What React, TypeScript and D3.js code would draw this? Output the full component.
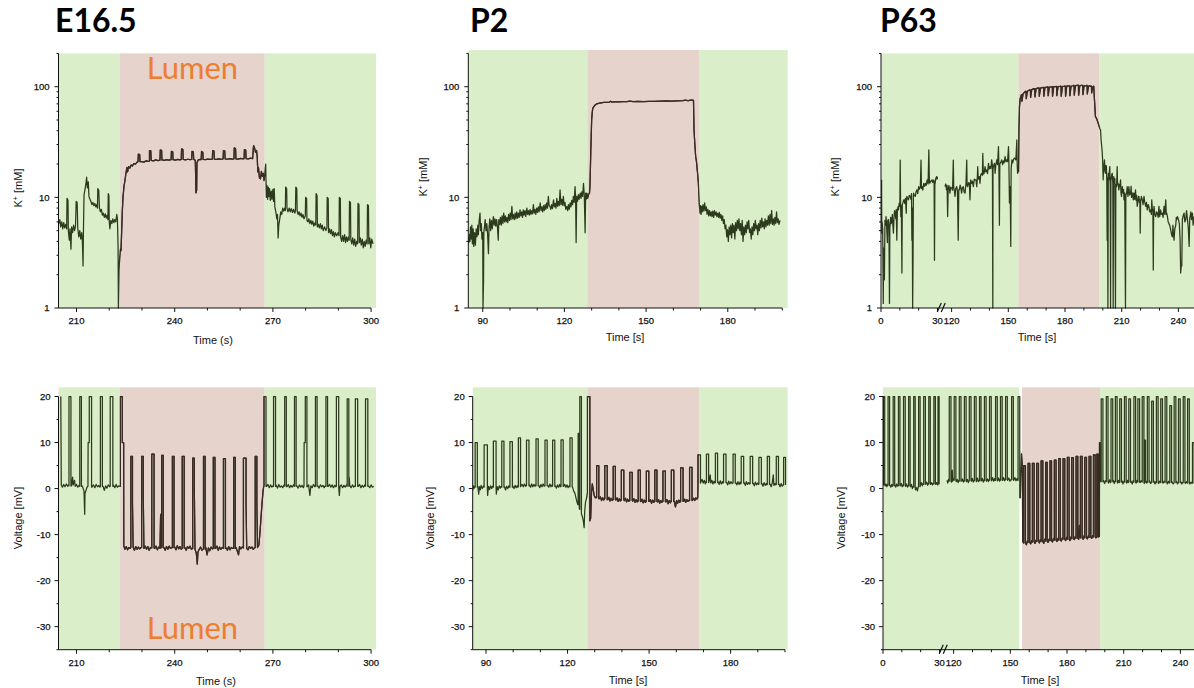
import React from 'react';
import * as d3 from 'd3';

type Pt = [number, number];
// [start, end, level before, peak, level after (optional)]
type Spike = number[];

const GREEN_BG = '#d9eec9';
const LUMEN_BG = '#e5d3cc';
const GREEN_LINE = '#2d3a1d';
const LUMEN_LINE = '#3b2923';
const ORANGE = '#ed7d31';

const stages = ['E16.5', 'P2', 'P63'];

// axis ticks
const kTicks = [1, 10, 100];
const kMinor = [2, 3, 4, 5, 6, 7, 8, 9, 20, 30, 40, 50, 60, 70, 80, 90, 200];
const vTicks = [-30, -20, -10, 0, 10, 20];
const vMinor = [-35, -25, -15, -5, 5, 15];
const e16Ticks = [210, 240, 270, 300];
const e16Minor = [220, 230, 250, 260, 280, 290];
const p2Ticks = [90, 120, 150, 180];
const p2Minor = [100, 110, 130, 140, 160, 170, 190, 200];
const p63Ticks = [0, 30, 120, 150, 180, 210, 240];
const p63Minor = [10, 20, 130, 140, 160, 170, 190, 200, 220, 230];

// lumen windows (s)
const e16Lumen = [223.3, 267.5];
const p2LumenK = [128.4, 169.4];
const p2LumenV = [127.3, 168.4];
const p63LumenK = [155.3, 198.1];
const p63LumenV = [156.2, 197.5];
const p63GreenEndV = 154.75;

// ---------- K+ traces (mM) ----------
const e16K: Pt[] = [
  [204.6,5.8],[204.9,6.3],[205.2,5.4],[205.5,6.0],[205.8,5.2],[206.1,5.9],[206.4,5.3],[206.7,5.7],[207.0,5.2],[207.1,9.8],[207.4,9.4],[207.5,5.0],[207.8,4.1],[208.0,5.2],[208.3,3.4],[208.5,5.4],[208.8,4.8],[209.1,5.6],[209.4,5.0],[209.7,5.5],[209.9,9.2],[210.2,9.0],[210.4,5.2],[210.7,4.4],[211.0,5.0],[211.3,4.2],[211.6,4.8],[211.8,4.0],[212.0,2.4],[212.1,4.6],[212.3,10.5],[212.6,11.8],[212.9,13.5],[213.1,15.2],[213.3,12.2],[213.6,13.8],[213.8,10.2],[214.1,9.6],[214.4,9.2],[214.7,8.6],[215.0,9.0],[215.3,8.4],[215.6,8.8],[215.9,8.2],[216.2,8.6],[216.4,8.0],[216.5,12.0],[216.8,11.6],[217.0,8.0],[217.3,7.4],[217.6,7.8],[217.9,6.9],[218.2,7.2],[218.5,6.6],[218.8,7.1],[219.1,6.5],[219.4,6.9],[219.6,6.3],[219.7,10.8],[219.9,10.4],[220.0,6.0],[220.2,5.2],[220.5,6.2],[220.8,5.8],[221.1,6.4],[221.4,5.9],[221.7,6.3],[222.0,6.0],[222.3,7.0],[222.5,6.4],[222.7,3.6],[222.8,1.0],[223.0,2.2],[223.2,2.9],[223.4,3.4],[223.6,3.3],[223.8,5.0],[224.0,7.5],[224.2,10.0],[224.5,12.5],[224.8,14.2],[225.1,16.5],[225.4,18.6],[225.6,17.0],[225.9,19.0],[226.3,18.4],[226.7,19.6],[227.1,19.2],[227.5,20.2],[228.0,20.0],[228.5,20.8],[228.8,21.0],[228.9,24.6],[229.3,24.4],[229.4,21.0],
  [229.9,21.0],[230.6,20.8],[231.3,21.4],[232.0,21.2],[232.3,21.3],[232.3,26.5],[232.7,26.3],[232.8,21.6],[233.5,21.4],[234.2,21.8],[234.9,21.5],[235.5,21.7],[235.6,26.8],[236.0,26.6],[236.1,21.8],[236.8,21.6],[237.5,21.9],[238.2,21.7],[238.9,21.9],[239.0,26.0],[239.4,25.8],[239.5,21.9],[240.2,21.7],[240.9,22.0],[241.6,21.8],[242.0,22.0],[242.1,27.4],[242.5,27.0],[242.6,22.0],[243.3,21.8],[244.0,22.1],[244.7,21.9],[245.2,22.0],[245.3,26.0],[245.7,25.8],[245.8,22.0],[246.3,21.6],[246.5,11.0],[246.7,11.5],[246.8,20.5],[247.2,21.8],[247.8,22.0],[248.1,21.9],[248.2,26.0],[248.6,25.6],[248.7,22.0],[249.4,21.9],[250.1,22.2],[250.8,22.0],[251.5,22.2],[251.6,26.5],[252.0,26.2],[252.1,22.2],[252.8,22.0],[253.5,22.3],[254.2,22.1],[254.8,22.3],[254.9,26.5],[255.3,26.2],[255.4,22.3],[256.1,22.1],[256.8,22.4],[257.5,22.2],[258.1,22.3],[258.2,28.0],[258.6,27.5],[258.7,22.3],[259.4,22.2],[260.1,22.5],[260.8,22.3],[261.2,22.4],[261.3,27.0],[261.7,26.8],[261.8,22.4],[262.5,22.3],[263.2,22.6],[263.8,22.4],[264.0,27.0],[264.1,29.4],[264.4,28.0],[264.7,25.5],[265.0,26.5],[265.2,23.5],[265.4,17.0],[265.6,18.5],[265.9,15.0],[266.2,14.7],[266.5,17.2],[266.8,15.5],[267.1,16.5],[267.3,14.2],[267.6,16.5],[267.8,20.0],[268.0,10.0],[268.2,12.8],[268.4,9.6],[268.6,12.4],[268.8,10.2],[269.0,12.0],[269.2,9.4],[269.5,11.4],[269.7,9.6],[270.0,11.8],[270.2,9.2],[270.4,12.0],[270.6,8.2],[270.9,7.4],[271.2,6.4],[271.4,7.0],[271.6,4.3],[271.8,5.6],[272.1,6.4],[272.4,7.4],[272.7,7.0],[273.0,8.0],[273.3,7.5],[273.6,8.0],[273.8,7.6],[273.9,12.4],[274.2,12.0],[274.3,8.0],[274.6,7.4],[275.0,8.0],[275.3,7.4],[275.6,7.9],[276.0,7.3],[276.3,7.8],[276.7,7.2],[276.9,7.6],[277.0,12.4],[277.3,12.0],[277.4,7.6],[277.7,7.0],[278.0,7.4],[278.3,6.8],[278.6,7.2],[278.9,6.6],[279.2,7.0],[279.5,6.4],[279.9,6.8],[280.0,10.0],[280.3,9.8],[280.4,6.2],[280.7,6.0],[281.0,6.4],[281.3,5.8],[281.6,6.2],[281.9,5.7],[282.2,6.1],[282.5,5.5],[282.9,5.9],[283.1,5.6],[283.2,10.8],[283.5,10.4],[283.6,5.4],[283.9,5.7],[284.2,5.3],[284.5,5.8],[284.8,5.2],[285.1,5.6],[285.4,5.0],[285.8,5.4],[286.2,5.0],[286.5,5.3],[286.6,10.0],[286.9,9.8],[287.0,4.8],[287.3,5.2],[287.6,4.7],[287.9,5.1],[288.2,4.5],[288.5,4.9],[288.8,4.4],[289.1,4.8],[289.5,4.5],[289.9,4.8],[290.2,4.5],[290.3,10.0],[290.6,9.8],[290.7,4.4],[291.0,4.0],[291.3,4.5],[291.6,4.0],[291.9,4.6],[292.2,3.9],[292.5,4.4],[292.8,4.0],[293.1,4.4],[293.3,4.1],[293.4,9.2],[293.7,9.0],[293.8,4.2],[294.1,3.8],[294.4,4.3],[294.7,3.7],[295.0,4.2],[295.3,3.6],[295.6,4.0],[295.9,3.8],[296.0,8.8],[296.3,8.6],[296.4,3.9],[296.7,4.3],[297.0,3.7],[297.3,4.2],[297.6,3.5],[297.9,4.0],[298.2,3.6],[298.5,4.1],[298.8,3.8],[298.9,8.6],[299.2,8.4],[299.3,3.8],[299.6,4.3],[299.9,3.5],[300.2,4.2],[300.6,3.8],
];

const p2K: Pt[] = [
  [84.7,4.4],[84.9,3.9],[85.1,4.6],[85.3,4.0],[85.5,5.4],[85.7,4.2],[86.0,5.6],[86.2,3.8],[86.5,5.2],[86.7,3.6],[87.0,4.8],[87.3,3.7],[87.6,5.2],[87.9,4.4],[88.2,5.6],[88.4,4.6],[88.7,6.2],[89.0,7.2],[89.2,5.0],[89.5,5.8],[89.7,4.2],[90.0,4.8],[90.1,1.0],[90.3,1.8],[90.4,4.8],[90.7,5.6],[90.9,6.3],[91.2,5.0],[91.5,5.8],[91.8,4.6],[92.1,3.1],[92.3,5.2],[92.6,6.4],[92.9,5.0],[93.2,6.2],[93.5,5.2],[93.9,6.7],[94.2,5.6],[94.5,6.4],[94.8,5.5],[95.1,6.3],[95.4,5.4],[95.7,4.1],[95.9,6.3],[96.2,5.7],[96.5,6.6],[96.8,5.6],[97.1,6.8],[97.4,5.8],[97.7,7.2],[98.0,6.0],[98.3,6.8],[98.6,6.0],[98.9,6.6],[99.2,5.9],[99.5,7.0],[99.8,6.2],[100.1,7.2],[100.4,6.3],[100.7,8.3],[101.0,6.4],[101.3,7.0],[101.6,6.3],[101.9,7.2],[102.2,6.4],[102.5,7.4],[102.8,6.5],[103.1,7.2],[103.4,6.6],[103.7,7.7],[104.0,6.8],[104.3,7.4],[104.6,6.6],[104.9,7.7],[105.2,6.9],[105.5,7.6],[105.8,6.7],[106.2,8.0],[106.5,7.0],[106.8,7.6],[107.1,6.9],[107.4,7.8],[107.7,7.0],[108.0,7.6],[108.3,7.1],[108.6,8.6],[108.9,7.2],[109.2,7.8],[109.5,7.0],[109.8,8.0],[110.1,7.3],[110.4,8.2],[110.7,7.4],[111.1,8.9],[111.4,7.6],[111.7,8.2],[112.0,7.4],[112.3,8.4],[112.6,7.6],[112.9,8.6],[113.2,7.8],[113.5,8.9],[113.8,8.0],[114.1,10.2],[114.4,8.4],[114.7,8.3],[115.0,7.8],[115.3,8.6],[115.6,7.9],[116.0,9.5],[116.3,8.2],[116.6,8.8],[116.9,8.0],[117.2,9.8],[117.5,8.3],[117.8,9.2],[118.1,8.4],[118.4,11.7],[118.7,8.6],[119.0,9.6],[119.3,8.5],[119.6,10.2],[119.9,8.4],[120.2,9.0],[120.5,7.8],[120.9,8.3],[121.2,7.6],[121.5,8.6],[121.8,7.8],[122.1,8.9],[122.4,8.2],[122.7,9.4],[123.0,8.6],[123.3,10.2],[123.6,9.0],[123.9,12.5],[124.1,10.0],[124.3,3.9],[124.5,10.2],[124.8,9.2],[125.1,10.6],[125.4,9.6],[125.8,10.9],[126.1,9.8],[126.4,11.2],[126.7,10.2],[127.0,13.4],[127.3,10.4],[127.6,4.8],[127.8,10.9],[128.0,9.6],[128.2,10.9],[128.5,9.8],[128.8,10.6],[129.2,10.9],[129.4,13.0],[129.7,26.8],[130.0,50.0],[130.2,58.0],[130.4,63.8],[130.8,66.0],[131.3,68.4],[131.9,70.0],[132.5,70.8],[133.5,71.4],[134.5,72.0],[135.5,72.3],[136.5,72.6],[137.0,73.8],[137.5,72.6],[138.5,73.0],[140.0,73.0],[141.5,73.2],[143.0,73.2],[144.0,74.0],[145.3,73.2],[147.0,73.6],[149.0,73.4],[151.0,73.8],[153.0,73.6],[155.0,74.0],[157.6,74.3],[159.5,74.2],[161.5,74.6],[163.5,74.8],[164.5,75.8],[165.5,74.6],[166.2,75.8],[167.0,75.8],[167.4,75.4],[167.6,40.6],[167.9,30.0],[168.2,23.4],[168.5,21.0],[168.9,16.5],[169.2,13.4],[169.4,10.5],[169.6,8.3],[169.8,7.2],[170.0,8.4],[170.2,7.0],[170.4,8.3],[170.6,7.4],[170.9,8.6],[171.2,7.5],[171.5,8.9],[171.8,7.6],[172.1,8.2],[172.4,7.0],[172.7,7.8],[173.0,6.8],[173.3,7.6],[173.6,6.8],[173.9,7.4],[174.2,6.7],[174.5,7.5],[174.8,6.6],[175.1,7.6],[175.4,6.9],[175.7,7.4],[176.0,6.7],[176.3,7.2],[176.6,6.6],[176.9,7.3],[177.2,6.5],[177.5,7.0],[177.8,6.2],[178.1,6.8],[178.4,5.8],[178.7,6.3],[179.0,5.2],[179.3,5.6],[179.6,4.4],[179.9,5.1],[180.2,4.0],[180.5,5.4],[180.8,4.6],[181.1,5.6],[181.4,4.3],[181.7,5.8],[182.0,4.8],[182.3,5.6],[182.6,4.2],[182.9,5.9],[183.2,5.0],[183.5,6.2],[183.8,5.2],[184.1,6.4],[184.4,5.0],[184.7,5.8],[185.0,4.6],[185.3,6.2],[185.6,4.0],[185.9,5.4],[186.2,4.6],[186.5,5.6],[186.8,4.8],[187.1,6.0],[187.4,5.2],[187.7,6.2],[188.0,4.8],[188.3,5.2],[188.6,4.2],[188.9,5.4],[189.2,4.6],[189.5,5.8],[189.8,5.0],[190.1,6.2],[190.4,5.2],[190.7,5.6],[191.0,4.6],[191.3,5.8],[191.6,5.0],[191.9,6.2],[192.2,5.3],[192.5,6.5],[192.8,5.4],[193.1,6.0],[193.4,5.2],[193.7,6.4],[194.0,5.4],[194.3,6.2],[194.6,5.6],[194.9,6.8],[195.2,5.6],[195.5,7.0],[195.8,5.8],[196.1,7.6],[196.4,5.7],[196.7,6.4],[197.0,5.6],[197.3,6.6],[197.6,5.8],[197.9,7.4],[198.2,5.9],[198.5,6.4],[198.8,5.7],[199.2,6.2],
];

const p63KEarly: Pt[] = [
  [0.3,14.4],[0.4,4.75],[0.6,6.0],[0.9,5.2],[1.2,1.1],[1.4,3.5],[1.8,1.8],[2.1,6.2],[2.4,5.6],[2.7,6.7],[3.0,5.4],[3.4,3.9],[3.6,6.2],[3.9,6.3],[4.2,5.6],[4.5,1.1],[4.7,5.4],[4.8,5.5],[5.1,6.6],[5.4,5.8],[5.7,6.1],[6.0,7.0],[6.3,5.6],[6.6,4.75],[6.9,6.6],[7.2,7.6],[7.5,7.2],[7.8,6.4],[8.1,7.8],[8.4,4.1],[8.7,7.5],[9.0,8.2],[9.3,7.7],[9.6,8.8],[10.0,8.3],[10.2,21.7],[10.4,8.8],[10.5,6.7],[10.8,8.4],[11.1,2.07],[11.3,8.6],[11.6,8.9],[12.0,9.4],[12.3,9.5],[12.6,8.8],[13.0,9.8],[13.4,7.2],[13.6,9.6],[13.75,10.2],[14.1,9.8],[14.6,9.5],[15.0,10.4],[15.5,10.2],[15.9,9.6],[16.2,10.8],[16.4,4.1],[16.6,8.0],[16.8,1.0],[17.0,2.5],[17.2,10.4],[17.3,10.9],[17.7,10.4],[18.2,10.2],[18.6,11.2],[19.1,11.7],[19.5,10.8],[20.0,12.5],[20.4,11.8],[20.9,12.5],[21.25,21.7],[21.5,12.0],[21.8,12.5],[22.2,11.6],[22.7,13.4],[23.1,12.6],[23.6,13.4],[24.0,12.8],[24.5,14.4],[25.0,13.2],[25.4,26.8],[25.7,13.6],[25.9,13.4],[26.3,14.0],[26.6,13.9],[27.1,14.4],[27.5,13.6],[28.0,14.4],[28.2,13.8],[28.4,2.7],[28.6,13.4],[28.75,13.4],[29.1,14.8],[29.5,15.4],[29.8,14.6],[30.0,15.4],
];

const p63KLate: Pt[] = [
  [116.5,12.5],[116.9,13.2],[117.3,11.7],[117.6,12.8],[117.9,6.7],[118.2,12.1],[118.6,12.8],[119.1,10.9],[119.5,12.4],[120.0,12.1],[120.5,11.6],[120.9,21.7],[121.1,12.4],[121.4,11.7],[121.8,10.2],[122.2,12.0],[122.7,12.5],[123.1,11.4],[123.5,4.1],[123.8,11.7],[124.1,11.7],[124.5,12.9],[124.8,12.5],[125.3,10.9],[125.7,12.2],[126.2,12.5],[126.6,11.2],[127.1,10.9],[127.6,13.4],[128.0,21.7],[128.2,12.8],[128.5,12.5],[129.0,13.6],[129.4,13.4],[129.7,9.5],[130.1,14.4],[130.6,13.4],[131.0,14.0],[131.5,12.5],[132.0,14.6],[132.4,14.4],[132.9,14.4],[133.3,12.5],[133.6,15.0],[133.8,19.0],[134.1,14.6],[134.7,15.4],[135.0,13.4],[135.4,16.0],[135.9,16.5],[136.3,15.8],[136.5,25.0],[136.8,16.2],[137.2,16.5],[137.7,19.0],[138.1,17.0],[138.6,17.7],[139.0,16.4],[139.5,20.3],[139.9,18.0],[140.4,19.0],[140.8,18.2],[141.2,21.8],[141.6,19.5],[141.8,1.0],[141.9,18.0],[142.1,19.0],[142.7,20.3],[143.0,16.5],[143.4,19.5],[143.9,21.8],[144.3,19.8],[144.8,28.7],[145.0,19.5],[145.3,5.6],[145.5,20.0],[145.7,20.3],[146.1,20.8],[146.5,21.8],[147.0,19.8],[147.4,21.4],[147.8,20.5],[148.3,23.4],[148.7,21.0],[149.2,21.8],[149.6,21.0],[150.1,28.7],[150.3,21.4],[150.6,8.9],[150.8,12.5],[151.0,12.5],[151.3,3.6],[151.5,18.0],[151.9,21.8],[152.3,20.5],[152.7,21.8],[153.2,22.6],[153.6,22.6],[154.0,21.8],[154.5,33.0],[154.7,20.0],[154.9,16.5],[155.2,18.5],[155.4,17.1],[155.6,40.6],[155.9,66.0],[156.3,78.5],
  [156.7,82],[157.0,85],[157.1,84],[157.2,74],[157.8,86],[158.5,89],[159.3,91],[159.4,90.5],[159.5,78],[160.1,91],[161.0,93],[161.6,93.5],[161.7,93],[161.8,80],[162.4,94],[163.3,95.5],[163.9,96],[164.0,95.5],[164.1,81],[164.7,96],[165.6,97],[166.2,97.5],[166.3,97],[166.4,82],[167.0,97],[168.0,98],[168.6,98.5],[168.7,98],[168.8,82],[169.4,98.5],[170.3,99],[170.9,99.5],[171.0,99],[171.1,83],[171.7,99],[172.6,99.5],[173.2,100],[173.3,99.5],[173.4,82],[174.0,100],[174.9,100],[175.5,100.5],[175.6,100],[175.7,83],[176.3,100],[177.2,100.5],[177.8,101],[177.9,100],[178.0,82],[178.6,100],[179.5,101],[180.1,101],[180.2,100.5],[180.3,82],[180.9,101],[181.8,101.5],[182.4,102],[182.5,101],[182.6,83],[183.2,101],[184.1,102],[184.7,103],[184.8,102],[184.9,84],[185.5,102],[186.4,103],[187.0,103.5],[187.1,103],[187.2,84],[187.8,102],[188.7,103],[189.3,103],[189.4,102.5],[189.5,85],[190.1,102],[191.0,102.5],[191.6,103],[191.7,102],[191.8,86],[192.4,101],[193.3,101.5],[193.9,101],[194.0,100.5],[194.1,88],[194.7,100],[195.2,101],[195.6,75.8],[196.1,53.6],[196.6,52],[197.0,50],[197.5,47],[197.9,45.1],[198.4,42],[198.8,40.6],[199.1,33],[199.6,26.8],[199.9,22],[200.2,14.4],[200.4,19.5],[200.5,17.7],[200.7,20.3],[200.9,21.8],[201.1,17.1],[201.4,16.5],[201.6,19.5],[201.9,19.0],[202.1,14.0],[202.3,4.1],[202.5,15.0],[202.7,1.0],[202.9,16.5],[203.2,14.4],[203.5,17.5],[203.7,19.0],[203.9,13.0],[204.1,1.0],[204.3,15.0],[204.4,14.4],[204.7,16.0],[205.0,16.5],[205.3,13.4],[205.5,1.0],[205.7,14.0],[205.8,15.4],[206.1,13.4],[206.4,14.8],[206.7,1.0],[206.9,13.0],[207.3,12.5],[207.6,19.0],[207.8,13.0],[208.1,13.4],[208.5,11.7],[208.8,13.0],[209.0,12.5],[209.4,14.4],[209.6,11.0],[209.9,10.2],[210.1,12.0],[210.3,12.5],[210.6,11.0],[210.8,10.9],[211.0,11.8],[211.2,9.5],[211.6,11.0],[212.0,1.0],[212.2,10.5],[212.6,10.9],[212.9,12.5],[213.3,10.2],[213.6,11.4],[213.8,12.5],[214.2,10.5],[214.7,10.9],[215.0,12.6],[215.2,10.0],[215.6,10.2],[215.9,11.0],[216.1,9.5],[216.5,10.9],[216.9,9.6],[217.3,11.7],[217.6,9.4],[217.9,10.4],[218.2,8.3],[218.6,9.2],[218.9,10.2],[219.1,10.2],[219.4,9.0],[219.6,9.5],[219.8,4.75],[220.0,9.0],[220.4,10.2],[220.9,9.5],[221.3,8.6],[221.8,10.2],[222.2,9.0],[222.7,8.3],[223.1,9.0],[223.5,7.7],[224.0,8.6],[224.4,8.3],[224.8,7.4],[225.3,7.7],[225.7,7.0],[225.9,9.5],[226.2,7.8],[226.5,7.4],[226.7,2.2],[226.9,7.6],[227.1,8.3],[227.5,7.0],[228.0,6.7],[228.4,7.4],[228.8,7.2],[229.3,6.6],[229.7,8.3],[230.1,6.7],[230.6,7.7],[231.0,7.0],[231.5,7.2],[231.9,6.6],[232.4,8.3],[232.8,7.0],[233.3,9.5],[233.6,7.0],[233.8,7.2],[234.2,6.7],[234.6,6.0],[235.0,5.8],[235.5,5.5],[235.9,5.1],[236.4,4.6],[236.8,4.4],[237.1,5.6],[237.3,4.9],[237.7,4.1],[238.1,5.2],[238.6,5.6],[238.9,6.6],[239.1,6.3],[239.5,6.7],[240.0,6.3],[240.5,5.8],[240.9,4.1],[241.2,2.07],[241.5,2.4],[241.8,2.4],[242.1,6.3],[242.5,6.8],[243.0,7.2],[243.4,6.0],[243.9,6.3],[244.3,7.6],[244.8,6.3],[245.2,5.4],[245.7,3.6],[246.0,6.5],[246.2,6.7],[246.6,7.4],[246.9,6.3],[247.4,7.2],[247.8,5.6],[248.3,6.7],
];

// ---------- voltage traces (mV): baseline readings + spikes ----------
const e16VBase: Pt[] = [
  [205.2,20],[205.35,0.8],[205.7,0.3],[206.1,0.9],[206.5,0.4],[206.9,1.0],[207.3,0.5],[207.6,0.8],
  [208.5,0.6],[208.8,2.5],[209.0,0.8],[209.4,1.8],[209.6,0.5],[210.0,0.9],[210.4,0.3],[210.8,0.7],
  [211.7,0.6],[212.0,0.1],[212.3,-0.6],[212.5,-5.6],[212.6,-1.0],[212.9,-0.4],[213.2,0.3],[213.5,0.5],[213.55,10],[213.85,10],
  [214.7,0.3],[215.2,0.8],[215.6,0.2],[216.0,0.9],[216.4,0.4],[216.8,0.7],[217.1,0.3],
  [218.1,0.5],[218.5,-0.4],[218.9,0.6],[219.3,0.1],[219.7,0.8],[220.1,0.4],
  [221.3,0.7],[221.7,0.2],[222.1,0.9],[222.5,0.3],[222.9,0.6],[223.2,0.5],
  [224.4,10],[224.45,-12.5],[224.8,-13.2],[225.2,-12.6],[225.6,-13.3],[226.0,-12.8],[226.4,-13.0],
  [227.3,-12.8],[227.7,-13.4],[228.1,-12.6],[228.5,-13.2],[228.9,-12.7],[229.3,-13.1],[229.7,-12.8],
  [230.6,-13.0],[231.0,-12.5],[231.4,-13.2],[231.8,-12.6],[232.2,-13.4],[232.6,-12.8],
  [233.9,-13.0],[234.3,-12.5],[234.7,-13.3],[235.1,-12.7],[235.5,-13.0],[235.7,-5.6],[235.85,-12.8],
  [236.7,-12.8],[237.1,-13.4],[237.5,-12.6],[237.9,-13.2],[238.3,-12.5],[238.7,-13.0],[239.1,-12.8],
  [240.0,-12.7],[240.4,-13.3],[240.8,-12.4],[241.2,-13.1],[241.6,-12.6],[242.0,-13.2],
  [243.1,-12.8],[243.5,-13.4],[243.9,-12.6],[244.3,-13.0],[244.7,-12.5],[245.1,-13.2],
  [246.2,-13.2],[246.6,-14.0],[246.9,-16.4],[247.1,-13.8],[247.5,-13.2],[247.9,-12.7],[248.3,-13.4],
  [249.5,-12.8],[249.9,-14.4],[250.3,-12.9],[250.7,-13.5],[251.1,-12.7],[251.5,-13.1],
  [252.5,-13.0],[252.9,-12.5],[253.3,-13.4],[253.7,-12.7],[254.1,-13.2],[254.5,-12.8],
  [255.7,-12.9],[256.1,-13.4],[256.5,-12.6],[256.9,-13.3],[257.3,-12.8],[257.7,-13.0],
  [258.7,-12.8],[259.1,-13.5],[259.5,-14.4],[259.8,-12.6],[260.2,-13.1],[260.6,-12.7],
  [262.0,-13.0],[262.4,-13.3],[262.8,-12.6],[263.2,-13.0],[263.6,-12.7],[264.0,-13.2],[264.4,-12.8],
  [265.3,-12.8],[265.7,-12.3],[266.0,-10],[266.4,-6],[266.7,-3],[267.0,-0.5],[267.2,0.5],
  [268.1,0.5],[268.5,0.9],[268.9,0.2],[269.3,0.8],[269.7,0.3],[270.0,0.6],
  [271.0,0.7],[271.4,0.1],[271.8,0.9],[272.2,0.3],[272.6,0.6],[273.0,0.2],[273.4,0.8],
  [274.3,0.4],[274.7,0.9],[275.1,0.2],[275.5,0.7],[275.9,0.3],[276.3,0.8],
  [277.3,0.6],[277.7,0.1],[278.1,0.8],[278.5,0.3],[278.9,0.7],[279.3,0.2],[279.5,0.5],[279.55,10],[279.85,10],
  [280.6,0.4],[280.9,0.8],[281.3,-1.5],[281.6,0.6],[282.0,0.2],[282.4,0.9],[282.8,0.4],
  [283.7,0.6],[284.1,0.1],[284.5,0.8],[284.9,0.4],[285.3,0.7],[285.7,0.2],[286.0,0.6],
  [286.9,0.5],[287.3,0.9],[287.7,0.3],[288.1,0.8],[288.5,0.2],[288.9,0.7],[289.2,0.4],
  [290.3,-1.5],[290.5,0.5],[290.9,0.8],[291.3,0.2],[291.7,0.7],[292.1,0.3],[292.5,0.8],
  [293.3,2.5],[293.5,0.6],[293.9,0.2],[294.3,0.8],[294.7,0.3],[295.0,0.6],
  [296.1,0.5],[296.5,0.9],[296.9,0.2],[297.3,0.7],[297.7,0.3],[298.1,0.8],
  [299.2,0.6],[299.6,0.2],[300.0,0.8],[300.4,0.3],[300.8,0.5],
];
const e16VSpikes: Spike[] = [
  [207.7,208.3,0.6,20],[211.0,211.5,0.5,20],[213.9,214.6,10,20,0.3],[217.3,217.9,0.5,20],[220.3,221.1,0.5,20],[223.4,224.0,0.5,20,10],
  [226.6,227.1,-12.8,7,-3],[229.9,230.4,-12.8,7,-2],[233.0,233.7,-12.9,7.5],[236.0,236.5,-12.8,7.2],[239.3,239.8,-12.8,7],[242.3,242.9,-12.9,7],[245.5,246.0,-13.0,6.6,-0.5],[248.8,249.3,-13.1,7],[251.8,252.3,-13.0,6.8],[254.9,255.5,-13.0,6.5],[258.0,258.5,-13.0,6.8],[261.0,261.8,-12.9,6.6,-3],[264.6,265.1,-12.8,7,-3],
  [267.3,267.9,0.5,20],[270.2,270.8,0.5,20],[273.6,274.1,0.5,20],[276.6,277.1,0.5,20],[279.9,280.4,10,20,0.4],[283.0,283.5,0.5,20],[286.2,286.7,0.5,20],[289.4,290.1,0.5,20],[292.7,293.2,0.5,19.5],[295.2,295.9,0.5,19.5],[298.3,299.0,0.5,19.5],
];

const p2VBase: Pt[] = [
  [85.1,-0.4],[85.4,0.6],[85.7,0.1],[87.0,0.5],[87.3,-1.2],[87.6,0.4],[87.9,-0.3],[88.2,0.7],[88.6,0.0],[89.0,0.5],[90.6,-1.5],[90.9,0.5],[91.3,-0.2],[91.7,0.6],[92.1,0.0],[92.4,0.5],[93.8,-1.2],[94.1,0.4],[94.5,-0.3],[94.9,0.6],[95.3,0.1],[95.6,0.5],[96.8,0.4],[97.2,-0.3],[97.6,0.5],[98.0,0.0],[98.4,0.6],[98.6,0.3],[99.9,0.5],[100.3,0.0],[100.7,0.7],[101.1,0.2],[101.5,0.6],[101.7,0.3],[102.9,0.6],[103.3,0.9],[103.7,0.4],[104.1,1.0],[104.5,0.5],[104.7,0.8],[106.0,0.8],[106.4,0.3],[106.8,1.0],[107.2,0.4],[107.6,0.9],[108.0,0.5],[108.2,0.8],[109.4,0.7],[109.8,0.2],[110.2,0.9],[110.6,0.4],[111.0,1.0],[111.4,0.5],[112.7,0.7],[113.1,0.3],[113.5,1.0],[113.9,0.4],[114.3,0.8],[115.5,0.6],[115.9,0.1],[116.3,0.8],[116.7,0.3],[117.1,0.9],[117.4,0.4],[118.6,0.5],[119.0,0.9],[119.4,0.3],[119.8,0.8],[120.2,0.2],[120.6,0.6],[121.9,0.2],[122.3,-0.6],[122.7,-1.0],[123.1,-2.0],[123.5,-3.0],[123.8,-3.5],[124.4,-4.5],[125.4,-6.0],[125.8,-7.0],[126.1,-8.5],[126.3,-5.0],[126.6,-3.0],[127.0,-2.0],[127.25,-1.0],[128.5,-6.5],[128.8,-1.0],[129.1,1.0],[129.4,0.0],[129.8,-1.5],[130.2,-2.0],[130.5,-1.8],
  [131.7,-2.2],[132.1,-1.8],[132.5,-2.6],[132.9,-2.0],[133.3,-2.5],[133.5,-2.1],[134.8,-2.4],[135.2,-1.9],[135.6,-2.7],[136.0,-2.1],[136.4,-2.6],[136.6,-2.3],[137.8,-2.5],[138.2,-2.0],[138.6,-2.8],[139.0,-2.2],[139.4,-2.7],[139.6,-2.4],[140.9,-2.6],[141.3,-2.1],[141.7,-2.9],[142.1,-2.3],[142.5,-2.8],[142.7,-2.5],[144.0,-2.7],[144.4,-2.2],[144.8,-3.0],[145.2,-2.4],[145.6,-2.9],[145.8,-2.6],[147.0,-2.8],[147.4,-2.3],[147.8,-3.1],[148.2,-2.5],[148.6,-3.0],[148.8,-2.7],[150.1,-2.8],[150.5,-2.4],[150.9,-3.2],[151.3,-2.5],[151.7,-3.0],[151.9,-2.7],[153.1,-2.9],[153.5,-2.4],[153.9,-3.2],[154.3,-2.6],[154.7,-3.0],[154.9,-2.7],[156.2,-2.9],[156.6,-2.4],[157.0,-3.3],[157.4,-2.6],[157.8,-3.1],[158.0,-2.7],[159.3,-2.8],[159.7,-4.0],[160.1,-2.6],[160.5,-3.2],[160.9,-2.5],[161.3,-3.0],[161.4,-2.7],[162.7,-2.8],[163.1,-2.3],[163.5,-3.0],[163.9,-2.4],[164.3,-2.8],[164.7,-2.5],[166.0,-2.5],[166.4,-2.1],[166.8,-2.6],[167.2,-2.0],[167.6,-2.3],[167.9,-2.0],
  [169.1,1.5],[169.5,2.0],[169.9,1.2],[170.3,1.8],[170.7,1.0],[170.9,1.5],[172.1,1.6],[172.5,3.0],[172.7,1.2],[173.1,1.8],[173.5,1.0],[173.9,1.6],[174.2,1.2],[175.4,1.5],[175.8,0.9],[176.2,1.7],[176.6,1.0],[177.0,1.5],[177.2,1.2],[178.5,1.4],[178.9,0.8],[179.3,1.6],[179.7,1.0],[180.1,1.5],[180.6,1.1],[181.9,1.3],[182.3,0.8],[182.7,1.5],[183.1,0.9],[183.5,1.4],[183.7,1.0],[185.0,1.3],[185.4,0.7],[185.8,1.5],[186.2,0.9],[186.6,1.3],[187.0,1.0],[188.3,1.2],[188.7,0.6],[189.1,1.4],[189.5,0.8],[189.9,1.2],[190.2,0.9],[191.5,1.1],[191.9,0.5],[192.3,1.3],[192.7,0.7],[193.1,1.1],[193.3,0.8],[194.5,1.0],[194.9,0.4],[195.3,1.2],[195.7,3.0],[195.9,0.7],[196.3,1.1],[196.6,0.8],[197.8,1.0],[198.2,0.4],[198.6,1.1],[199.0,0.5],[199.3,0.8],
];
const p2VSpikes: Spike[] = [
  [86.0,86.8,0.3,10],[89.3,90.5,0.3,9.5],[92.7,93.7,0.3,10.3],[95.8,96.6,0.3,10.3],[98.8,99.7,0.3,10.2],[101.9,102.7,0.4,11],[104.9,105.8,0.6,10.5],[108.4,109.2,0.6,10.8],[111.7,112.5,0.6,10.5],[114.5,115.3,0.5,10.5],[117.6,118.4,0.5,10.6],[120.9,121.7,0.4,11],
  [123.9,124.3,-3.5,12,-4],[124.5,125.1,-4.5,20,-5.5],[127.3,128.2,-1,20,-7],
  [130.7,131.5,-2,5,-2.2],[133.7,134.6,-2.2,5,-2.4],[136.8,137.6,-2.4,4.8],[139.8,140.7,-2.5,4],[142.9,143.8,-2.6,3.5],[146.0,146.8,-2.7,4],[149.0,149.9,-2.8,3.8],[152.1,152.9,-2.8,4],[155.1,156.0,-2.8,3.8],[158.2,159.1,-2.8,4],[161.6,162.5,-2.8,4.5],[164.9,165.8,-2.6,4.6],
  [168.0,168.9,1.2,7.3],[171.1,171.9,1.3,7.5],[174.4,175.2,1.3,7.7],[177.4,178.3,1.3,7.5],[180.9,181.7,1.2,7.5],[183.9,184.8,1.2,7],[187.2,188.1,1.1,7],[190.4,191.3,1.0,6.8],[193.5,194.3,0.9,7],[196.8,197.6,0.9,7],[199.5,200.2,0.8,6.8],
];

const p63VEarlyBase: Pt[] = [
  [0,0.8],[1.2,0.6],[1.6,1.0],[2.0,0.4],[2.4,0.9],[3.7,0.7],[4.1,0.3],[4.6,0.9],[5.0,0.5],[6.4,0.8],[6.8,0.3],[7.3,1.0],[7.8,0.5],[9.2,0.6],[9.7,1.1],[10.2,0.4],[10.6,0.8],[12.0,0.5],[12.5,1.0],[13.0,0.3],[13.4,0.7],[14.6,0.4],[15.1,0.9],[15.6,0.0],[16.0,0.5],[17.3,-0.3],[17.8,0.2],[18.3,-0.5],[18.7,0.4],[19.9,0.8],[20.4,1.3],[20.9,0.6],[21.3,1.1],[22.7,1.0],[23.2,1.4],[23.7,0.7],[24.1,1.2],[25.3,0.9],[25.8,1.3],[26.3,0.8],[26.8,1.2],[28.0,0.9],[28.5,1.3],[29.0,0.8],[30,1.0],
];
const p63VEarlySpikes: Spike[] = [
  [0.2,0.9,0.8,20],[2.7,3.5,0.7,20],[5.4,6.2,0.6,20],[8.2,9.0,0.7,20],[10.9,11.8,0.6,20],[13.6,14.4,0.6,20],[16.3,17.1,0.3,20],[18.9,19.7,0.4,20],[21.6,22.5,0.9,20],[24.3,25.1,1.0,20],[27.0,27.8,1.0,20],[29.2,29.8,1.0,20],
];
const p63VLateBase: Pt[] = [
  [116.5,1.8],[116.9,1.2],[117.3,2.0],[118.9,1.4],[119.3,4.0],[119.5,1.6],[119.9,2.1],[121.4,1.5],[121.9,2.0],[122.4,1.3],[122.8,1.8],[124.2,1.6],[124.7,2.1],[125.2,1.4],[125.5,1.8],[126.8,1.5],[127.3,2.0],[127.8,1.3],[128.1,1.7],[129.4,1.6],[129.9,2.2],[130.4,1.4],[130.8,1.9],[132.1,1.5],[132.6,2.3],[133.1,1.5],[133.5,1.8],[134.7,1.7],[135.2,2.2],[135.7,1.4],[136.1,1.9],[137.4,1.6],[137.9,2.1],[138.4,1.5],[138.8,2.0],[140.1,1.7],[140.6,2.4],[141.2,1.6],[141.8,2.2],[142.0,1.8],[143.3,1.7],[143.8,2.3],[144.3,1.6],[144.6,2.0],[145.9,1.8],[146.4,2.4],[146.9,1.7],[147.3,2.1],[148.6,1.8],[149.2,2.3],[149.8,1.6],[150.5,2.0],[151.8,1.8],[152.4,2.4],[153.0,1.7],[153.6,2.2],[153.9,1.8],
  [155.3,-2.0],[155.9,7.6],[156.3,5.0],[156.6,-11.5],[157.0,-11.8],
  [158.5,-12.2],[159.0,-11.4],[160.8,-12.0],[161.3,-11.3],[163.1,-11.9],[163.6,-11.2],[165.4,-11.8],[165.9,-11.1],[167.7,-11.9],[168.2,-11.0],[170.0,-11.7],[170.5,-11.0],[172.3,-11.6],[172.8,-10.9],[174.7,-11.5],[175.2,-10.8],[177.0,-11.4],[177.5,-10.7],[179.3,-11.3],[179.8,-10.6],[181.6,-11.3],[182.1,-10.5],[183.9,-11.1],[184.4,-10.4],[186.2,-11.0],[186.6,-8.0],[186.8,-10.6],[188.5,-11.0],[189.0,-10.3],[190.8,-10.9],[191.3,-10.3],[193.1,-10.8],[193.6,-10.2],[195.3,-10.7],[196.7,-10.5],[197.0,-10.3],[197.15,-10.4],[197.2,10],[197.5,10],[197.6,1.5],
  [199.3,1.8],[199.9,1.1],[200.4,1.7],[202.0,1.2],[202.6,1.9],[203.0,1.3],[204.5,1.8],[205.0,1.1],[205.3,1.6],[206.8,1.2],[207.3,1.8],[207.6,1.3],[209.1,1.7],[209.6,1.0],[210.1,1.6],[211.6,1.2],[212.1,1.8],[212.4,1.3],[213.9,1.6],[214.5,1.0],[215.0,1.7],[216.6,1.2],[217.0,1.8],[218.7,1.3],[219.2,1.7],[220.9,1.1],[221.8,1.6],[222.2,1.2],[223.7,1.7],[224.2,1.1],[226.0,1.6],[226.6,1.0],[227.0,1.5],[228.5,1.1],[229.0,1.6],[230.8,1.2],[231.4,1.6],[233.1,1.0],[233.7,1.6],[234.1,1.2],[235.6,1.5],[236.2,1.0],[237.9,1.6],[238.5,1.0],[240.2,1.5],[240.8,1.0],[241.2,1.4],[242.7,1.1],[243.3,1.5],[245.0,1.0],[245.6,1.4],[246.1,1.1],[247.5,1.3],[248.5,1.1],
];
const p63VLateSpikes: Spike[] = [
  [117.7,118.6,1.6,20],[120.3,121.2,1.8,20],[123.0,123.9,1.6,20],[125.7,126.6,1.6,20],[128.3,129.2,1.7,20],[131.0,131.9,1.7,20],[133.7,134.5,1.7,20],[136.3,137.2,1.7,20],[139.0,139.9,1.8,20],[142.2,143.1,1.8,20],[144.8,145.7,1.8,20],[147.5,148.4,1.9,20],[150.7,151.6,1.9,20],[154.1,155.0,1.8,20,-2],
  [157.1,158.0,-11.8,5],[159.4,160.3,-11.7,5.5],[161.7,162.6,-11.6,5.5],[164.0,164.9,-11.5,5.5],[166.3,167.2,-11.5,6],[168.7,169.5,-11.4,5.7],[171.0,171.8,-11.3,6],[173.3,174.2,-11.2,6.2],[175.6,176.5,-11.2,6.5],[177.9,178.8,-11.0,6.5],[180.2,181.1,-11.0,6.8],[182.5,183.4,-10.9,6.7],[184.8,185.7,-10.8,7],[187.1,188.0,-10.7,7],[189.4,190.3,-10.7,6.8],[191.7,192.6,-10.6,7],[194.0,194.9,-10.5,7.3],[195.8,196.5,-10.5,7.5],
  [198.1,199.0,1.5,19.5],[200.8,201.7,1.5,20],[203.3,204.2,1.5,19.5],[205.6,206.5,1.5,20],[207.9,208.8,1.4,19.5],[210.4,211.3,1.4,20],[212.7,213.6,1.4,19.5],[215.4,216.3,1.4,20],[217.5,218.4,1.4,19.5],[219.8,220.7,1.4,20],[221.1,221.5,1.4,10.5],[222.5,223.4,1.4,20],[224.8,225.7,1.4,19],[227.3,228.2,1.3,20],[229.6,230.5,1.3,19.5],[231.9,232.8,1.3,20],[234.4,235.3,1.3,18],[236.7,237.6,1.3,20],[239.0,239.9,1.3,19.5],[241.5,242.4,1.3,20],[243.8,244.7,1.2,19.5],[246.4,247.3,1.2,10],
];

// merge baseline readings with spike plateaus
function withSpikes(base: Pt[], spikes: Spike[]): Pt[] {
  const pts: Pt[] = base.filter(([t]) => !spikes.some(s => t > s[0] && t < s[1]));
  spikes.forEach(([a, b, lo, hi, after]) => {
    pts.push([a, lo], [a + 0.001, hi], [b - 0.001, hi], [b, after ?? lo]);
  });
  return pts.sort((p, q) => p[0] - q[0]);
}

const FONT = '"Liberation Sans", Arial, sans-serif';

function KLabel() {
  return (
    <>
      <tspan>K</tspan>
      <tspan dy={-4} fontSize={7}>+</tspan>
      <tspan dy={4}> [mM]</tspan>
    </>
  );
}

interface PanelCfg {
  id: string;
  x: d3.ScaleLinear<number, number>;
  y: any;
  top: number;
  bottom: number;
  yAxisTop: number;
  xAxisEnd: number;
  bands: [number, number, string][];
  lumen: number[];
  segments: Pt[][];
  xTicks: number[];
  xMinor: number[];
  yTicks: number[];
  yMinor: number[];
  yGap: number;
  xTitle: string;
  xTitlePos: Pt;
  yTitle: React.ReactNode;
  yTitlePos: Pt;
  brk?: boolean;
  lumenText?: number;
}

function Panel({ c }: { c: PanelCfg }) {
  const left = c.x.range()[0];
  const right = c.x.range()[c.x.range().length - 1];
  const line = d3.line<Pt>().x(d => c.x(d[0])).y(d => c.y(d[1]));
  const lx0 = c.x(c.lumen[0]);
  const lx1 = c.x(c.lumen[1]);
  const brkX = c.brk ? (c.x(30) + c.x(116.5)) / 2 : 0;
  const tickText = { fontFamily: FONT, fontSize: 9.5, fill: '#111', stroke: '#111', strokeWidth: 0.25 };
  return (
    <g>
      <defs>
        <clipPath id={`plot-${c.id}`}>
          <rect x={left} y={c.top - 2} width={right - left} height={c.bottom - c.top + 3} />
        </clipPath>
        <clipPath id={`lumen-${c.id}`}>
          <rect x={lx0} y={c.top - 2} width={lx1 - lx0} height={c.bottom - c.top + 3} />
        </clipPath>
      </defs>
      {c.bands.map(([a, b, fill], i) => (
        <rect key={i} x={c.x(a)} y={c.top} width={c.x(b) - c.x(a)} height={c.bottom - c.top} fill={fill} />
      ))}
      {c.lumenText !== undefined && (
        <text x={(lx0 + lx1) / 2} y={c.lumenText} textAnchor="middle" fontFamily="Lato, 'Open Sans', sans-serif"
          fontSize={31} fill={ORANGE}>Lumen</text>
      )}
      <g clipPath={`url(#plot-${c.id})`}>
        {c.segments.map((s, i) => (
          <path key={i} d={line(s) ?? ''} fill="none" stroke={GREEN_LINE} strokeWidth={1.25} strokeLinejoin="round" />
        ))}
      </g>
      <g clipPath={`url(#lumen-${c.id})`}>
        {c.segments.map((s, i) => (
          <path key={i} d={line(s) ?? ''} fill="none" stroke={LUMEN_LINE} strokeWidth={1.25} strokeLinejoin="round" />
        ))}
      </g>
      {/* y axis */}
      <line x1={left} x2={left} y1={c.bottom} y2={c.yAxisTop} stroke="#111" strokeWidth={1} />
      {c.yTicks.map(v => (
        <g key={`yt${v}`}>
          <line x1={left - 4} x2={left} y1={c.y(v)} y2={c.y(v)} stroke="#111" />
          <text x={left - c.yGap} y={c.y(v) + 3.3} textAnchor="end" {...tickText}>{v}</text>
        </g>
      ))}
      {c.yMinor.map(v => (
        <line key={`ym${v}`} x1={left - 2} x2={left} y1={c.y(v)} y2={c.y(v)} stroke="#111" />
      ))}
      {/* x axis */}
      <line x1={left} x2={c.xAxisEnd} y1={c.bottom} y2={c.bottom} stroke="#111" strokeWidth={1} />
      {c.xTicks.map(v => (
        <g key={`xt${v}`}>
          <line x1={c.x(v)} x2={c.x(v)} y1={c.bottom} y2={c.bottom + 4} stroke="#111" />
          <text x={c.x(v)} y={c.bottom + 16} textAnchor="middle" {...tickText}>{v}</text>
        </g>
      ))}
      {c.xMinor.map(v => (
        <line key={`xm${v}`} x1={c.x(v)} x2={c.x(v)} y1={c.bottom} y2={c.bottom + 2.5} stroke="#111" />
      ))}
      {c.brk && (
        <g stroke="#111" strokeWidth={1.2}>
          <line x1={brkX - 4} y1={c.bottom + 4} x2={brkX} y2={c.bottom - 5} />
          <line x1={brkX} y1={c.bottom + 4} x2={brkX + 4} y2={c.bottom - 5} />
        </g>
      )}
      <text x={c.xTitlePos[0]} y={c.xTitlePos[1]} textAnchor="middle" fontFamily={FONT} fontSize={11} fill="#111">{c.xTitle}</text>
      <text transform={`translate(${c.yTitlePos[0]},${c.yTitlePos[1]}) rotate(-90)`} textAnchor="middle"
        fontFamily={FONT} fontSize={11} fill="#111">{c.yTitle}</text>
    </g>
  );
}

export default function App() {
  const yK = d3.scaleLog().domain([1, 200]).range([308, 53.4]);
  const yV = d3.scaleLinear().domain([-35, 22]).range([649.7, 387.3]);

  const xE16 = d3.scaleLinear().domain([204.5, 301.5]).range([58.5, 376]);
  const xP2K = d3.scaleLinear().domain([84.7, 202]).range([468.3, 787.7]);
  const xP2V = d3.scaleLinear().domain([85.1, 201]).range([472.7, 787.7]);
  const xP63K = d3.scaleLinear().domain([0, 30, 116.5, 250]).range([881, 937.5, 945, 1197.3]);
  const xP63V = d3.scaleLinear().domain([0, 30, 116.5, 250]).range([883, 939.5, 947, 1199.3]);

  const panels: PanelCfg[] = [
    {
      id: 'e16k', x: xE16, y: yK, top: 53.4, bottom: 308, yAxisTop: 53.4, xAxisEnd: xE16(300),
      bands: [[204.5, e16Lumen[0], GREEN_BG], [e16Lumen[0], e16Lumen[1], LUMEN_BG], [e16Lumen[1], 301.5, GREEN_BG]],
      lumen: e16Lumen, segments: [e16K], xTicks: e16Ticks, xMinor: e16Minor, yTicks: kTicks, yMinor: kMinor, yGap: 9,
      xTitle: 'Time (s)', xTitlePos: [213, 344], yTitle: <KLabel />, yTitlePos: [22, 188], lumenText: 79,
    },
    {
      id: 'p2k', x: xP2K, y: yK, top: 50, bottom: 308, yAxisTop: 53.4, xAxisEnd: xP2K(200),
      bands: [[84.7, p2LumenK[0], GREEN_BG], [p2LumenK[0], p2LumenK[1], LUMEN_BG], [p2LumenK[1], 202, GREEN_BG]],
      lumen: p2LumenK, segments: [p2K], xTicks: p2Ticks, xMinor: p2Minor, yTicks: kTicks, yMinor: kMinor, yGap: 9,
      xTitle: 'Time [s]', xTitlePos: [625, 341], yTitle: <KLabel />, yTitlePos: [427, 177],
    },
    {
      id: 'p63k', x: xP63K, y: yK, top: 53.4, bottom: 308, yAxisTop: 53.4, xAxisEnd: 1194,
      bands: [[0, p63LumenK[0], GREEN_BG], [p63LumenK[0], p63LumenK[1], LUMEN_BG], [p63LumenK[1], 250, GREEN_BG]],
      lumen: p63LumenK, segments: [p63KEarly, p63KLate], xTicks: p63Ticks, xMinor: p63Minor, yTicks: kTicks, yMinor: kMinor, yGap: 9,
      xTitle: 'Time [s]', xTitlePos: [1037, 341], yTitle: <KLabel />, yTitlePos: [839, 177], brk: true,
    },
    {
      id: 'e16v', x: xE16, y: yV, top: 387.3, bottom: 649.7, yAxisTop: yV(20), xAxisEnd: xE16(300),
      bands: [[204.5, e16Lumen[0], GREEN_BG], [e16Lumen[0], e16Lumen[1], LUMEN_BG], [e16Lumen[1], 301.5, GREEN_BG]],
      lumen: e16Lumen, segments: [withSpikes(e16VBase, e16VSpikes)], xTicks: e16Ticks, xMinor: e16Minor, yTicks: vTicks, yMinor: vMinor, yGap: 8,
      xTitle: 'Time (s)', xTitlePos: [216, 685], yTitle: 'Voltage [mV]', yTitlePos: [22, 518], lumenText: 639,
    },
    {
      id: 'p2v', x: xP2V, y: yV, top: 387.3, bottom: 649.7, yAxisTop: yV(20), xAxisEnd: xP2V(200),
      bands: [[85.1, p2LumenV[0], GREEN_BG], [p2LumenV[0], p2LumenV[1], LUMEN_BG], [p2LumenV[1], 201, GREEN_BG]],
      lumen: p2LumenV, segments: [withSpikes(p2VBase, p2VSpikes)], xTicks: p2Ticks, xMinor: p2Minor, yTicks: vTicks, yMinor: vMinor, yGap: 8,
      xTitle: 'Time [s]', xTitlePos: [628, 684], yTitle: 'Voltage [mV]', yTitlePos: [434, 518],
    },
    {
      id: 'p63v', x: xP63V, y: yV, top: 387.3, bottom: 649.7, yAxisTop: yV(20), xAxisEnd: 1194,
      bands: [[0, p63GreenEndV, GREEN_BG], [p63LumenV[0], p63LumenV[1], LUMEN_BG], [p63LumenV[1], 250, GREEN_BG]],
      lumen: p63LumenV, segments: [withSpikes(p63VEarlyBase, p63VEarlySpikes), withSpikes(p63VLateBase, p63VLateSpikes)],
      xTicks: p63Ticks, xMinor: p63Minor, yTicks: vTicks, yMinor: vMinor, yGap: 8,
      xTitle: 'Time [s]', xTitlePos: [1040, 684], yTitle: 'Voltage [mV]', yTitlePos: [845, 518], brk: true,
    },
  ];

  const titleX = [55, 470, 880];

  return (
    <svg width={1194} height={688} style={{ position: 'absolute', left: 0, top: 0, background: '#fff' }}>
      {stages.map((s, i) => (
        <text key={s} x={titleX[i]} y={32} fontFamily="Lato, 'Open Sans', sans-serif" fontWeight={700} fontSize={32} fill="#000">{s}</text>
      ))}
      {panels.map(p => <Panel key={p.id} c={p} />)}
    </svg>
  );
}
